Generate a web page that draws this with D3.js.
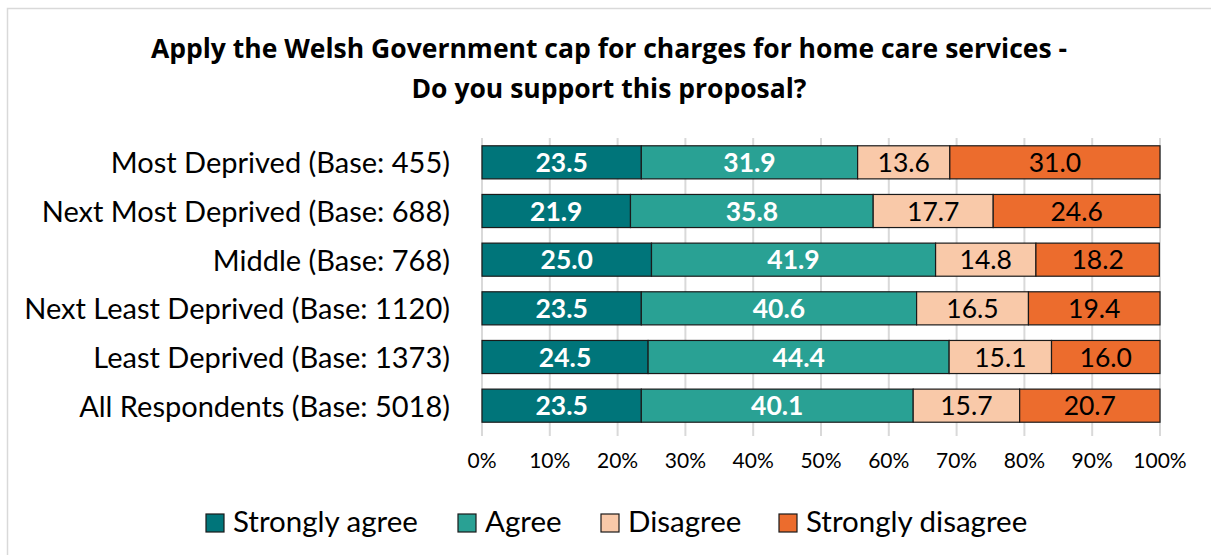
<!DOCTYPE html>
<html><head><meta charset="utf-8">
<script src="https://cdn.jsdelivr.net/npm/d3@7"></script>
<style>body{margin:0;background:#fff}svg{display:block}</style>
</head><body>
<script>
const categories = ["Most Deprived (Base: 455)","Next Most Deprived (Base: 688)","Middle (Base: 768)","Next Least Deprived (Base: 1120)","Least Deprived (Base: 1373)","All Respondents (Base: 5018)"];
const seriesNames = ["Strongly agree","Agree","Disagree","Strongly disagree"];
const stronglyAgree = [23.5,21.9,25.0,23.5,24.5,23.5];
const agree = [31.9,35.8,41.9,40.6,44.4,40.1];
const disagree = [13.6,17.7,14.8,16.5,15.1,15.7];
const stronglyDisagree = [31.0,24.6,18.2,19.4,16.0,20.7];
const tickValues = [0,10,20,30,40,50,60,70,80,90,100];
const colors = ["#00757a","#29a194","#f9c9a9","#ec6c2d"];
const labelColors = ["#fff","#fff","#000","#000"];
const labelWeights = ["bold","bold","normal","normal"];

const W=1211,H=555;
const font = "Lato, 'Open Sans', sans-serif";
const titleFont = "'Open Sans', Lato, sans-serif";
const svg = d3.select("body").append("svg").attr("width",W).attr("height",H);
svg.append("rect").attr("x",7.5).attr("y",8.5).attr("width",W+10).attr("height",H+10).attr("fill","#fff").attr("stroke","#d9d9d9").attr("stroke-width",1.5);

svg.append("text").attr("x",609).attr("y",58).attr("text-anchor","middle").attr("font-family",titleFont).attr("font-weight","bold").attr("font-size",26.5).text("Apply the Welsh Government cap for charges for home care services -");
svg.append("text").attr("x",609).attr("y",98).attr("text-anchor","middle").attr("font-family",titleFont).attr("font-weight","bold").attr("font-size",26.5).text("Do you support this proposal?");

const x = d3.scaleLinear().domain([0,100]).range([482,1160]);
const y = d3.scaleBand().domain(categories).range([138,430]).paddingInner(0.32).paddingOuter(0.16);

const g = svg.append("g");
g.selectAll("line.grid").data(tickValues).join("line")
  .attr("x1",d=>x(d)).attr("x2",d=>x(d)).attr("y1",138).attr("y2",436)
  .attr("stroke","#d9d9d9").attr("stroke-width",2);

const seriesData = [stronglyAgree,agree,disagree,stronglyDisagree];
const rows = categories.map((c,i)=>{const o={cat:c}; seriesNames.forEach((s,j)=>o[s]=seriesData[j][i]); return o;});
const stack = d3.stack().keys(seriesNames)(rows);

stack.forEach((layer,j)=>{
  const lg = g.append("g");
  lg.selectAll("rect").data(layer).join("rect")
    .attr("x",d=>x(d[0])).attr("width",d=>x(d[1])-x(d[0]))
    .attr("y",d=>y(d.data.cat)).attr("height",y.bandwidth())
    .attr("fill",colors[j]).attr("stroke","#1a1a1a").attr("stroke-width",1.2);
  lg.selectAll("text").data(layer).join("text")
    .attr("x",d=>(x(d[0])+x(d[1]))/2).attr("y",d=>y(d.data.cat)+y.bandwidth()/2+9.5)
    .attr("text-anchor","middle").attr("font-family",font).attr("font-size",26.5)
    .attr("font-weight",labelWeights[j]).attr("fill",labelColors[j])
    .text(d=>d.data[seriesNames[j]].toFixed(1));
});

g.selectAll("text.cat").data(categories).join("text").attr("class","cat")
  .attr("x",450).attr("y",d=>y(d)+y.bandwidth()/2+11).attr("text-anchor","end")
  .attr("font-family",font).attr("font-size",29).attr("fill","#000").text(d=>d);

g.selectAll("text.tick").data(tickValues).join("text").attr("class","tick")
  .attr("x",d=>x(d)).attr("y",468).attr("text-anchor","middle")
  .attr("font-family",font).attr("font-size",21).attr("fill","#000").text(d=>d+"%");

const legendX = [206,458,601,779];
const lg = svg.append("g");
seriesNames.forEach((s,j)=>{
  lg.append("rect").attr("x",legendX[j]).attr("y",514).attr("width",18).attr("height",18)
    .attr("fill",colors[j]).attr("stroke","#1a1a1a").attr("stroke-width",1.2);
  lg.append("text").attr("x",legendX[j]+27).attr("y",532).attr("font-family",font).attr("font-size",29.5).attr("fill","#000").text(s);
});
</script>
</body></html>
